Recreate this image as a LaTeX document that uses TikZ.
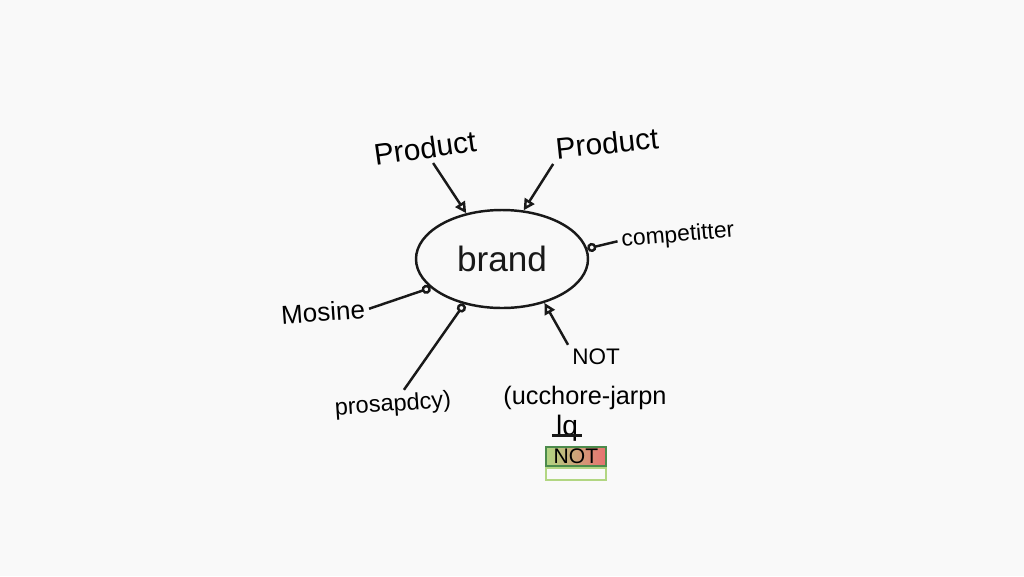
\documentclass[tikz,border=0pt]{standalone}
\usepackage{fontspec}
\setmainfont{Liberation Sans}
\usepackage{xcolor}
\usetikzlibrary{shapes.geometric, arrows.meta}

\definecolor{boardbg}{RGB}{249,249,249}
\definecolor{markergreen}{RGB}{178,214,130}
\definecolor{markerred}{RGB}{232,112,112}

\tikzset{
    ink/.style={line width=0.7pt, black!90},
    tri/.style={ink, -{Triangle[open, length=3.2pt, width=3.2pt]}},
    dot/.style={ink, -{Circle[open, length=2.6pt]}},
    word/.style={inner sep=1pt, font=#1},
    word/.default=\fontsize{8}{9}\selectfont
}

\begin{document}
\begin{tikzpicture}
        \fill[boardbg] (0,0) rectangle (10.24,5.76);
        \useasboundingbox (0,0) rectangle (10.24,5.76);

        % the centre bubble
        \node (brand) [ellipse, ink, draw, minimum width=1.72cm, minimum height=0.98cm, inner sep=0,
            font=\fontsize{10}{11}\selectfont] at (5.02,3.17) {brand};

        % words round it
        \node (pL) [word=\fontsize{8.5}{9}\selectfont, rotate=8] at (4.25,4.28) {Product};
        \node (pR) [word=\fontsize{8.5}{9}\selectfont, rotate=6] at (6.07,4.33) {Product};
        \node (comp) [word=\fontsize{6.5}{7}\selectfont, rotate=5] at (6.78,3.40) {competitter};
        \node (mos) [word=\fontsize{7.4}{8}\selectfont, rotate=4] at (3.23,2.64) {Mosine};
        \node (pros) [word=\fontsize{6.7}{7}\selectfont, rotate=4] at (3.93,1.71) {prosapdcy)};
        \node (nt) [word=\fontsize{6.4}{7}\selectfont] at (5.96,2.19) {NOT};
        \node (uc) [word=\fontsize{7.2}{8}\selectfont] at (5.85,1.78) {(ucchore-jarpn};
        \node (lq) [word=\fontsize{8}{9}\selectfont] at (5.67,1.48) {lq};

        % the little coloured tag
        \node (tag) [draw=green!35!black!70, line width=0.5pt, minimum width=0.6cm, minimum height=0.19cm,
            inner sep=0, left color=markergreen, right color=markerred,
            font=\fontsize{6}{6}\selectfont] at (5.76,1.195) {NOT};
        \node (tagstrip) [draw=markergreen, line width=0.6pt, minimum width=0.6cm, minimum height=0.12cm,
            inner sep=0, anchor=north] at (tag.south) {};

        % connectors
        \draw[tri] ([xshift=0.06cm]pL.south) -- (brand.128);
        \draw[tri] (pR.south west) -- (brand.66);
        \draw[dot] (comp.west) -- (brand.7);
        \draw[dot] (mos.east) -- (brand.202);
        \draw[dot] ([xshift=0.12cm]pros.north) -- (brand.230);
        \draw[tri] (nt.north west) -- (brand.314);
        \draw[ink] (lq.base west) -- (lq.base east);
    \end{tikzpicture}
\end{document}
